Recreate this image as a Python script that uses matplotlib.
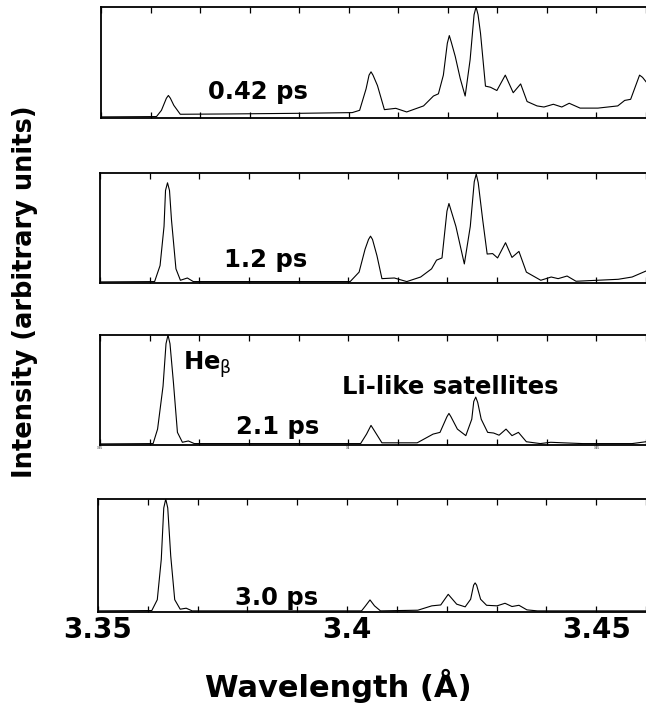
import numpy as np
import matplotlib
matplotlib.use("Agg")
import matplotlib.pyplot as plt

plt.rcParams["font.family"] = ["DejaVu Sans"]
plt.rcParams["mathtext.fontset"] = "dejavusans"

# Ar spectra (He-beta + Li-like satellites), intensity scaled per panel
wl_042 = [3.3500, 3.3612, 3.3622, 3.3632, 3.3636, 3.3640, 3.3647, 3.3660, 3.3763,
          3.3906, 3.4007, 3.4022, 3.4035, 3.4041, 3.4045, 3.4049, 3.4058, 3.4072,
          3.4095, 3.4117, 3.4151, 3.4171, 3.4181, 3.4191, 3.4199, 3.4203, 3.4207,
          3.4215, 3.4225, 3.4235, 3.4245, 3.4253, 3.4257, 3.4261, 3.4266, 3.4276,
          3.4286, 3.4299, 3.4316, 3.4332, 3.4347, 3.4360, 3.4380, 3.4394, 3.4413,
          3.4430, 3.4445, 3.4467, 3.4503, 3.4543, 3.4557, 3.4569, 3.4587, 3.4593,
          3.4600]
int_042 = [0.0, 0.003, 0.06, 0.17, 0.195, 0.17, 0.105, 0.024, 0.027,
           0.033, 0.039, 0.06, 0.255, 0.38, 0.41, 0.38, 0.285, 0.066,
           0.078, 0.045, 0.10, 0.19, 0.21, 0.38, 0.67, 0.74, 0.68,
           0.55, 0.35, 0.19, 0.52, 0.93, 1.0, 0.93, 0.76, 0.28,
           0.27, 0.24, 0.38, 0.22, 0.30, 0.14, 0.10, 0.09, 0.115,
           0.09, 0.124, 0.08, 0.08, 0.10, 0.15, 0.16, 0.38, 0.36,
           0.32]

wl_12 = [3.3500, 3.3610, 3.3621, 3.3629, 3.3632, 3.3636, 3.3640, 3.3644, 3.3653,
         3.3662, 3.3676, 3.3688, 3.4004, 3.4022, 3.4034, 3.4041, 3.4045, 3.4049,
         3.4058, 3.4068, 3.4093, 3.4118, 3.4146, 3.4168, 3.4178, 3.4189, 3.4199,
         3.4203, 3.4207, 3.4217, 3.4234, 3.4246, 3.4254, 3.4258, 3.4262, 3.4271,
         3.4280, 3.4291, 3.4301, 3.4317, 3.4330, 3.4344, 3.4359, 3.4388, 3.4409,
         3.4423, 3.4441, 3.4459, 3.4544, 3.4572, 3.4600]
int_12 = [0.0, 0.003, 0.15, 0.51, 0.84, 0.91, 0.84, 0.57, 0.12,
          0.015, 0.036, 0.003, 0.003, 0.09, 0.30, 0.39, 0.42, 0.39,
          0.24, 0.03, 0.036, 0.003, 0.045, 0.12, 0.20, 0.22, 0.65,
          0.72, 0.66, 0.51, 0.165, 0.51, 0.92, 0.99, 0.91, 0.57,
          0.256, 0.26, 0.22, 0.36, 0.225, 0.28, 0.09, 0.015, 0.045,
          0.03, 0.054, 0.006, 0.024, 0.045, 0.10]

wl_21 = [3.3500, 3.3607, 3.3616, 3.3627, 3.3633, 3.3637, 3.3641, 3.3648, 3.3656,
         3.3666, 3.3678, 3.3690, 3.4025, 3.4037, 3.4046, 3.4057, 3.4068, 3.4139,
         3.4171, 3.4185, 3.4199, 3.4203, 3.4207, 3.4220, 3.4237, 3.4249, 3.4253,
         3.4257, 3.4261, 3.4268, 3.4281, 3.4293, 3.4304, 3.4318, 3.4330, 3.4343,
         3.4359, 3.4387, 3.4408, 3.4433, 3.4472, 3.4572, 3.4600]
int_21 = [0.0, 0.003, 0.136, 0.53, 0.92, 1.0, 0.92, 0.56, 0.106,
          0.015, 0.027, 0.003, 0.003, 0.09, 0.17, 0.09, 0.01, 0.01,
          0.09, 0.106, 0.25, 0.28, 0.25, 0.136, 0.076, 0.227, 0.39,
          0.43, 0.38, 0.227, 0.106, 0.10, 0.08, 0.136, 0.076, 0.106,
          0.02, 0.003, 0.015, 0.01, 0.003, 0.003, 0.02]

wl_30 = [3.3500, 3.3608, 3.3619, 3.3627, 3.3632, 3.3636, 3.3640, 3.3646, 3.3654,
         3.3665, 3.3677, 3.3689, 3.4029, 3.4037, 3.4046, 3.4055, 3.4067, 3.4142,
         3.4170, 3.4188, 3.4203, 3.4220, 3.4237, 3.4248, 3.4254, 3.4257, 3.4260,
         3.4268, 3.4280, 3.4301, 3.4317, 3.4331, 3.4345, 3.4361, 3.4382, 3.4600]
int_30 = [0.0, 0.003, 0.10, 0.46, 0.92, 1.0, 0.92, 0.49, 0.10,
          0.015, 0.024, 0.0, 0.0, 0.045, 0.098, 0.045, 0.0, 0.006,
          0.045, 0.053, 0.148, 0.06, 0.036, 0.104, 0.23, 0.25, 0.23,
          0.104, 0.05, 0.045, 0.068, 0.039, 0.05, 0.009, 0.0, 0.0]

spectra = [(wl_042, int_042), (wl_12, int_12), (wl_21, int_21), (wl_30, int_30)]

# delay labels: (text, left wavelength, baseline height)
delay_labels = [("0.42 ps", 3.3716, 0.165), ("1.2 ps", 3.3749, 0.136),
                ("2.1 ps", 3.3774, 0.091), ("3.0 ps", 3.3774, 0.055)]

major_ticks = [3.35, 3.40, 3.45]
major_labels = ["3.35", "3.4", "3.45"]
minor_ticks = np.round(np.arange(3.35, 3.4601, 0.01), 3)
x_max = 3.4592

W, H = 646, 721
fig = plt.figure(figsize=(W / 100, H / 100), dpi=100)

# panel boxes in pixels (left, top, bottom)
boxes = [(101, 7, 118), (100, 173, 283), (100, 335, 445), (98, 499, 612)]
axes = []
for left, top, bot in boxes:
    ax = fig.add_axes([left / W, 1 - bot / H, 1 - left / W, (bot - top) / H])
    axes.append(ax)

for i, (ax, (wl, inten), (lab, lx, ly)) in enumerate(zip(axes, spectra, delay_labels)):
    ax.plot(wl, inten, color="black", lw=0.8)
    ax.set_xlim(3.35, x_max)
    ax.set_ylim(-0.01, 1.0)
    ax.set_yticks([])
    ax.spines["right"].set_visible(False)
    for s in ("left", "top", "bottom"):
        ax.spines[s].set_linewidth(1.3)
    ax.set_xticks(major_ticks)
    ax.set_xticks(minor_ticks, minor=True)
    ax.tick_params(axis="x", which="both", direction="in", top=True, bottom=True,
                   width=0.9, length=4.5)
    if i == 3:
        ax.set_xticklabels(major_labels, fontsize=20, fontweight="bold")
        ax.tick_params(axis="x", which="major", pad=3)
    elif i == 2:
        ax.set_xticklabels(major_labels, fontsize=2)
        ax.tick_params(axis="x", which="major", pad=0.5)
    else:
        ax.set_xticklabels([])
    ax.text(lx, ly, lab, fontsize=17.5, fontweight="bold", ha="left", va="baseline")

axes[2].text(3.3668, 0.68, r"He$_{\mathrm{\beta}}$", fontsize=17.5, fontweight="bold",
             ha="left", va="baseline")
axes[2].text(3.3987, 0.455, "Li-like satellites", fontsize=17.5, fontweight="bold",
             ha="left", va="baseline")

fig.text(25 / W, 1 - 292 / H, "Intensity (arbitrary units)", rotation=90,
         fontsize=18.5, fontweight="bold", ha="center", va="center")
fig.text(338 / W, 1 - 686 / H, "Wavelength (Å)", fontsize=22, fontweight="bold",
         ha="center", va="center")

fig.savefig("out.png", dpi=100)
